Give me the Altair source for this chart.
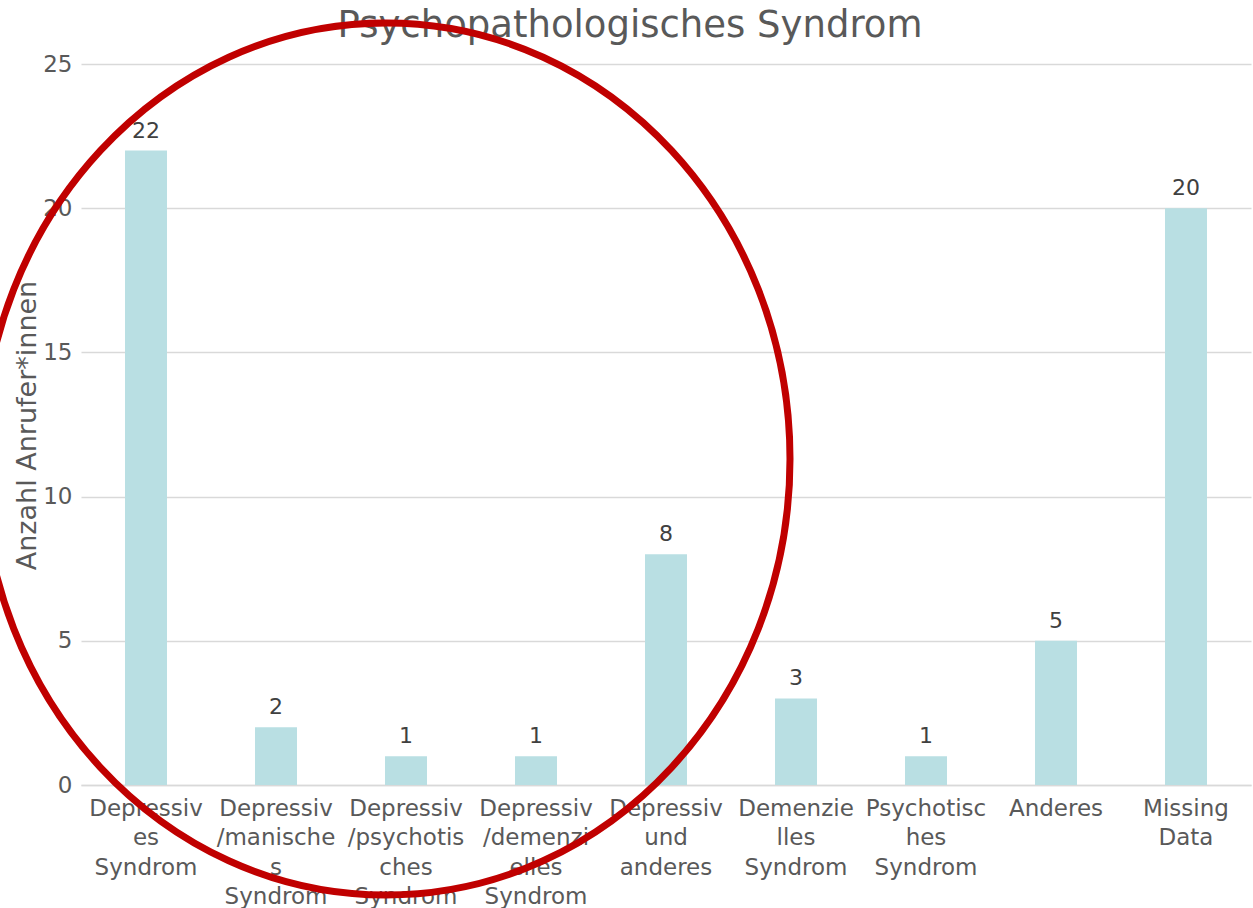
import altair as alt
import pandas as pd

title_text = "Psychopathologisches Syndrom"
categories = [
    "Depressiv\nes\nSyndrom",
    "Depressiv\n/manische\ns\nSyndrom",
    "Depressiv\n/psychotis\nches\nSyndrom",
    "Depressiv\n/demenzi\nelles\nSyndrom",
    "Depressiv\nund\nanderes",
    "Demenzie\nlles\nSyndrom",
    "Psychotisc\nhes\nSyndrom",
    "Anderes",
    "Missing\nData",
]
values = [22, 2, 1, 1, 8, 3, 1, 5, 20]
y_ticks = [0, 5, 10, 15, 20, 25]

df = pd.DataFrame({"cat": categories, "n": values})

FONT = "DejaVu Sans"

x_enc = alt.X(
    "cat:N",
    sort=categories,
    scale=alt.Scale(paddingInner=0.677, paddingOuter=0.3385),
    axis=alt.Axis(
        title=None,
        labelAngle=0,
        labelExpr="split(datum.label, '\\n')",
        labelFont=FONT,
        labelFontSize=23,
        labelColor="#595959",
        labelLineHeight=29.5,
        labelPadding=12,
        labelBaseline="top",
        ticks=False,
        domain=True,
        domainColor="#d9d9d9",
        domainWidth=1.5,
        grid=False,
    ),
)

y_enc = alt.Y(
    "n:Q",
    scale=alt.Scale(domain=[0, 25], nice=False),
    axis=alt.Axis(
        values=y_ticks,
        title="Anzahl Anrufer*innen",
        titleFont=FONT,
        titleFontSize=27,
        titleFontWeight="normal",
        titleColor="#595959",
        titleAngle=270,
        titleAlign="center",
        titleBaseline="middle",
        titleX=-54,
        titleY=361,
        labelFont=FONT,
        labelFontSize=23,
        labelColor="#595959",
        labelPadding=9,
        ticks=False,
        domain=False,
        grid=True,
        gridColor="#d9d9d9",
        gridWidth=1.5,
    ),
)

bars = alt.Chart(df).mark_bar(color="#b9dfe3").encode(x=x_enc, y=y_enc)

labels = alt.Chart(df).mark_text(
    font=FONT, fontSize=22, color="#404040", baseline="bottom", dy=-8
).encode(x=alt.X("cat:N", sort=categories), y="n:Q", text="n:Q")

# chart title drawn as a text mark so that it sits under the ellipse annotation
title = alt.Chart(pd.DataFrame({"t": [title_text]})).mark_text(
    font=FONT, fontSize=37, color="#595959", baseline="alphabetic", align="center"
).encode(x=alt.value(549), y=alt.value(-27), text="t:N")

# red hand-drawn-style ellipse annotation
a = 0.9266
k = 0.5523
ka = k * a
ellipse_path = (
    f"M {a},0 C {a},{k} {ka},1 0,1 C {-ka},1 {-a},{k} {-a},0 "
    f"C {-a},{-k} {-ka},-1 0,-1 C {ka},-1 {a},{-k} {a},0 Z"
)
ring = alt.Chart(pd.DataFrame({"o": [0]})).mark_point(
    shape=ellipse_path, filled=False, stroke="#c00000", strokeWidth=7, opacity=1
).encode(x=alt.value(305), y=alt.value(395), size=alt.value(872 * 872))

chart = (
    alt.layer(bars, labels, title, ring)
    .properties(
        width=1170,
        height=721,
        autosize=alt.AutoSizeParams(type="none"),
        padding={"left": 81, "top": 64, "right": 2, "bottom": 123},
    )
    .configure_view(strokeWidth=0)
)

chart.save("out.html", embed_options={"renderer": "svg", "actions": False})
